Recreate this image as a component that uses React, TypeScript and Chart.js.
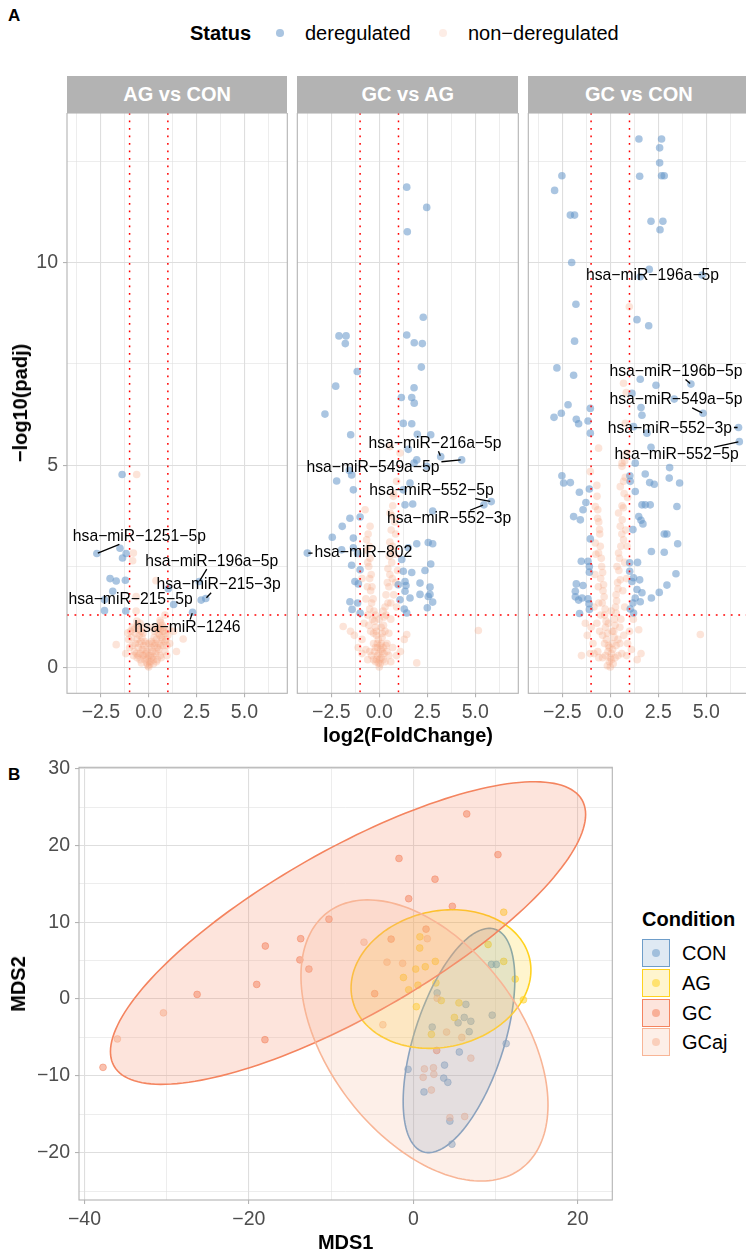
import React, { useEffect, useRef } from 'react';
import { Chart, registerables } from 'chart.js';

Chart.register(...registerables);

const FONT = "'Liberation Sans', Arial, Helvetica, sans-serif";
const MINUS = '\u2212';

// ---------------- Panel A : volcano plots ----------------
const facetTitles = ['AG vs CON', 'GC vs AG', 'GC vs CON'];
const statusLabels = ['deregulated', 'non\u2212deregulated'];
const foldChangeCutoffs = [-1, 1];
const padjCutoff = 1.301; // -log10(0.05)
const volcanoXRange = [-4.27, 7.24];
const volcanoYRange = [-0.63, 13.69];
const volcanoXTicks = [-3.75, -2.5, -1.25, 0, 1.25, 2.5, 3.75, 5, 6.25];
const volcanoXMajor = [-2.5, 0, 2.5, 5];
const volcanoYTicks = [0, 2.5, 5, 7.5, 10, 12.5];
const volcanoYMajor = [0, 5, 10];

const agConDeregulated = [
  [-1.39, 4.77], [-2.71, 2.82], [-1.5, 2.95], [-1.18, 2.82], [-1.37, 2.71], [-2.02, 2.2], [-1.7, 2.14],
  [-1.22, 2.16], [-1.88, 1.89], [-2.31, 1.68], [-2.31, 1.41], [-1.2, 1.4], [1.02, 1.95], [1.3, 1.56],
  [2.64, 2.13], [2.74, 1.67], [2.98, 1.71], [2.29, 1.37],
];
const agConNonDeregulated = [
  [-0.63, 4.77], [-0.8, 2.83], [-0.84, 2.64], [0.38, 2.15], [-0.66, 1.76], [-0.66, 1.4], [0.59, 1.17],
  [-1.09, 0.86], [-1.7, 0.57], [1.8, 0.71], [0.85, 1.3], [1.3, 0.9], [-1.2, 0.35], [1.45, 0.4],
  [-0.9, 0.75], [-0.75, 0.95], [-0.6, 1.05], [-0.5, 0.8], [-0.45, 1.1], [-0.7, 0.6], [-0.55, 0.5],
  [-0.4, 0.65], [-0.35, 0.45], [-0.3, 0.3], [-0.25, 0.55], [-0.2, 0.2], [-0.15, 0.35], [-0.1, 0.12],
  [-0.05, 0.05], [0, 0.02], [0.05, 0.08], [0.1, 0.15], [0.15, 0.25], [0.2, 0.4], [0.25, 0.2],
  [0.3, 0.55], [0.35, 0.35], [0.4, 0.7], [0.45, 0.5], [0.5, 0.85], [0.55, 0.6], [0.6, 0.95],
  [0.65, 0.75], [0.7, 1.05], [0.75, 0.55], [0.8, 0.9], [0.9, 0.7], [1.0, 0.8], [1.1, 0.6],
  [-1.0, 0.5], [-0.8, 0.3], [-0.6, 0.25], [0.6, 0.3], [0.85, 0.4], [-0.45, 0.2], [0.4, 0.15],
  [-0.3, 0.85], [0.3, 0.9], [-0.15, 0.6], [0.15, 0.65], [-0.02, 0.3], [0.05, 0.45], [-0.65, 0.35],
  [0.95, 0.3], [0.5, 1.0], [-0.5, 0.95],
  [-0.95, 0.9], [-0.85, 1.0], [-0.7, 0.85], [-0.6, 0.7], [-0.5, 0.6], [-0.45, 0.35], [-0.4, 0.9],
  [-0.35, 0.75], [-0.3, 0.45], [-0.2, 0.65], [-0.25, 0.3], [-0.1, 0.4], [-0.08, 0.22], [0.02, 0.15],
  [0.08, 0.3], [0.12, 0.5], [0.2, 0.6], [0.22, 0.28], [0.28, 0.75], [0.35, 0.6], [0.42, 0.4],
  [0.48, 0.95], [0.52, 0.45], [0.58, 0.8], [0.62, 0.55], [0.7, 0.7], [0.72, 0.9], [0.78, 1.0],
  [0.85, 0.65], [0.95, 0.55], [1.05, 0.95], [-1.05, 0.7], [-0.75, 0.4], [-0.55, 0.3], [0.65, 0.25],
  [0.45, 0.2], [-0.38, 0.12], [0.25, 0.1], [-0.85, 0.55], [0.88, 0.85], [-0.2, 1.0], [0.2, 1.0],
  [0.0, 0.6], [-0.62, 1.15], [0.62, 1.12],
];
const agConLabels = [
  { gene: 'hsa\u2212miR\u22121251\u22125p', point: [-2.71, 2.82], at: [-0.49, 3.24] },
  { gene: 'hsa\u2212miR\u2212196a\u22125p', point: [2.64, 2.13], at: [3.29, 2.63] },
  { gene: 'hsa\u2212miR\u2212215\u22123p', point: [2.98, 1.71], at: [3.65, 2.05] },
  { gene: 'hsa\u2212miR\u2212215\u22125p', point: [-2.31, 1.68], at: [-0.95, 1.68] },
  { gene: 'hsa\u2212miR\u22121246', point: [2.29, 1.37], at: [2.02, 0.99] },
];

const gcAgDeregulated = [
  [1.43, 11.86], [2.47, 11.36], [1.46, 10.76], [2.29, 8.65], [-2.1, 8.19], [-1.73, 8.19], [-1.77, 8.0],
  [1.43, 8.21], [1.82, 8.02], [2.24, 8.0], [2.19, 7.42], [-1.15, 7.31], [-2.27, 6.95], [1.81, 6.91],
  [1.15, 6.67], [1.69, 6.67], [1.82, 6.53], [-2.83, 6.26], [1.25, 6.03], [1.69, 6.02], [-1.49, 5.75],
  [1.98, 5.76], [2.68, 5.75], [3.2, 5.21], [4.29, 5.13], [1.95, 5.13], [1.81, 5.05], [1.51, 5.39],
  [2.47, 4.97], [-1.56, 4.87], [-1.44, 4.76], [-2.22, 4.61], [-1.35, 4.39], [1.25, 4.39], [1.6, 4.56],
  [1.34, 4.02], [1.74, 4.04], [2.78, 3.87], [5.45, 4.02], [5.83, 4.1], [-1.53, 3.69], [-1.0, 3.72],
  [-1.93, 3.49], [-2.45, 3.22], [-1.35, 3.2], [1.95, 3.06], [2.55, 3.09], [2.78, 3.06], [1.51, 2.96],
  [-1.96, 2.91], [-1.35, 2.96], [-3.75, 2.83], [1.17, 2.67], [-1.13, 2.82], [-1.44, 2.53], [2.68, 2.56],
  [2.38, 2.4], [1.25, 2.38], [1.69, 2.35], [-1.0, 2.42], [1.34, 2.13], [-1.27, 2.13], [-1.09, 2.07],
  [2.12, 2.09], [0.99, 2.05], [1.39, 2.03], [2.64, 1.99], [2.64, 1.81], [2.55, 1.76], [2.12, 1.81],
  [1.34, 1.89], [1.6, 1.72], [-1.53, 1.63], [-1.13, 1.6], [-1.42, 1.44], [2.78, 1.62], [2.5, 1.48],
  [1.3, 1.45], [1.43, 1.35], [1.08, 1.68], [-1.0, 1.35],
];
const gcAgNonDeregulated = [
  [5.16, 0.92], [1.95, 0.12], [0.56, 5.46], [1.08, 5.3], [0.73, 4.23], [0.56, 3.82], [-0.48, 3.49],
  [-0.66, 3.16], [-0.74, 3.9], [-1.88, 1.02], [-1.5, 0.9], [1.43, 0.82], [0.9, 4.6], [0.85, 3.3],
  [0.6, 2.9], [-0.6, 2.6], [-0.9, 2.2], [0.95, 2.4],
  [0.2, 0.5], [0.3, 0.9], [0.35, 1.3], [0.45, 1.6], [0.5, 2.0], [0.55, 2.3], [0.65, 2.6], [0.7, 3.0],
  [0.8, 3.6], [0.75, 1.8], [0.6, 1.2], [0.9, 1.5], [0.85, 2.1], [0.4, 0.6],
  [-0.2, 0.5], [-0.3, 0.85], [-0.35, 1.2], [-0.4, 1.6], [-0.45, 1.9], [-0.5, 2.2], [-0.55, 2.5],
  [-0.65, 2.9], [-0.7, 1.7], [-0.6, 1.3], [-0.8, 1.1], [-0.9, 0.7],
  [0, 0.02], [0.05, 0.1], [-0.05, 0.12], [0.1, 0.25], [-0.1, 0.3], [0.15, 0.4], [-0.15, 0.2],
  [0.25, 0.35], [-0.25, 0.4], [0.05, 0.55], [-0.05, 0.7], [0.15, 0.75], [-0.15, 0.9], [0.1, 1.0],
  [0.3, 0.15], [-0.3, 0.2], [0.5, 0.3], [-0.5, 0.4], [0.7, 0.5], [-0.7, 0.45], [1.1, 0.4],
  [-1.1, 0.5], [1.3, 0.7], [-1.3, 0.8], [0.0, 1.2], [0.2, 1.4], [-0.2, 1.3],
  [-0.1, 0.6], [-0.15, 0.8], [-0.2, 1.0], [-0.25, 1.15], [-0.28, 1.4], [-0.32, 1.7], [-0.38, 2.0],
  [-0.42, 2.3], [-0.48, 2.7], [-0.52, 3.0], [-0.58, 3.3], [-0.3, 0.6], [-0.45, 0.9], [-0.55, 1.05],
  [-0.5, 1.45], [-0.62, 2.0],
  [0.1, 0.6], [0.15, 0.85], [0.22, 1.05], [0.25, 1.25], [0.3, 1.5], [0.35, 1.8], [0.42, 2.1],
  [0.45, 2.45], [0.52, 2.75], [0.55, 3.1], [0.62, 3.4], [0.66, 3.75], [0.7, 4.0], [0.75, 4.3],
  [0.35, 0.55], [0.5, 0.85], [0.6, 1.6], [0.68, 2.2], [0.78, 2.8],
  [0.02, 0.2], [-0.02, 0.35], [0.08, 0.45], [-0.1, 0.5], [0.2, 0.2], [-0.2, 0.15], [0.4, 0.4],
  [-0.4, 0.3], [0.9, 0.3], [-0.9, 0.35], [0.6, 0.15], [-0.6, 0.2],
];
const gcAgLabels = [
  { gene: 'hsa\u2212miR\u2212216a\u22125p', point: [3.2, 5.21], at: [2.9, 5.54] },
  { gene: 'hsa\u2212miR\u2212549a\u22125p', point: [4.29, 5.13], at: [-0.33, 4.93] },
  { gene: 'hsa\u2212miR\u2212552\u22125p', point: [5.83, 4.1], at: [2.72, 4.37] },
  { gene: 'hsa\u2212miR\u2212552\u22123p', point: [5.45, 4.02], at: [3.64, 3.69] },
  { gene: 'hsa\u2212miR\u2212802', point: [-3.75, 2.83], at: [-0.83, 2.83] },
];

const gcConDeregulated = [
  [1.49, 13.05], [2.67, 13.05], [2.57, 12.83], [2.57, 12.46], [-2.52, 12.14], [1.53, 12.13], [2.67, 12.14],
  [2.81, 12.14], [-2.9, 11.78], [-2.08, 11.17], [-1.86, 11.17], [2.12, 11.02], [2.74, 11.02], [2.59, 10.81],
  [-2.01, 10.0], [2.03, 9.83], [1.56, 9.65], [4.78, 9.69], [-1.79, 8.97], [1.39, 8.59], [2.0, 8.44],
  [-1.86, 8.06], [-2.78, 7.4], [-1.91, 7.22], [1.56, 7.12], [2.38, 6.97], [4.2, 7.0], [1.13, 6.77],
  [3.33, 6.63], [4.83, 6.28], [-2.2, 6.49], [1.6, 6.42], [1.65, 6.23], [-2.55, 6.28], [-2.93, 6.18],
  [-1.04, 6.4], [-1.77, 6.13], [-1.65, 6.02], [-1.16, 6.09], [6.68, 5.93], [6.72, 5.58], [-1.04, 5.79],
  [1.21, 5.95], [1.91, 5.79], [2.12, 5.44], [1.3, 5.05], [3.09, 4.94], [-2.52, 4.74], [-2.43, 4.56],
  [-2.08, 4.57], [1.82, 4.78], [3.07, 4.68], [3.61, 4.56], [2.05, 4.57], [2.29, 4.53], [1.02, 4.74],
  [1.04, 4.6], [-1.09, 4.41], [-1.61, 4.33], [1.3, 4.35], [-1.27, 4.08], [1.65, 4.02], [1.82, 4.02],
  [2.08, 4.02], [3.47, 3.98], [-1.42, 3.9], [-1.91, 3.73], [-1.56, 3.65], [1.48, 3.73], [1.6, 3.64],
  [1.7, 3.55], [1.18, 3.41], [2.81, 3.3], [2.95, 3.3], [-1.04, 3.18], [3.51, 3.06], [2.14, 2.87],
  [2.81, 2.85], [-1.51, 2.63], [-1.16, 2.63], [-1.09, 2.36], [-1.09, 2.5], [1.01, 2.59], [1.01, 2.38],
  [1.42, 2.6], [3.42, 2.32], [1.21, 2.22], [1.53, 2.17], [1.13, 2.13], [-1.77, 2.07], [-1.42, 2.03],
  [-1.82, 1.89], [2.95, 2.04], [1.39, 1.93], [1.65, 1.85], [1.3, 1.72], [1.56, 1.63], [2.55, 1.86],
  [2.14, 1.72], [-1.82, 1.75], [-1.47, 1.72], [-1.65, 1.67], [-1.16, 1.7], [-1.11, 1.58], [-1.09, 1.44],
  [-1.6, 1.34], [1.18, 1.6], [1.04, 1.45], [1.21, 1.35],
];
const gcConNonDeregulated = [
  [0.99, 8.91], [0.69, 7.02], [0.83, 6.79], [0.78, 6.03], [-0.61, 5.42], [0.61, 5.05], [4.69, 0.82],
  [-1.04, 4.84], [-0.69, 4.23], [-0.78, 3.98], [-0.66, 3.69], [-0.56, 3.41], [-0.78, 3.08], [-0.61, 2.83],
  [-0.45, 2.5], [-0.5, 2.2], [-0.38, 1.9], [-0.42, 1.6], [-0.3, 1.3], [-0.25, 1.0], [-0.2, 0.7],
  [-0.12, 0.4], [-0.05, 0.15], [0, 0.02], [0.06, 0.2], [0.12, 0.45], [0.2, 0.75], [0.25, 1.05],
  [0.3, 1.35], [0.33, 1.65], [0.4, 1.95], [0.52, 2.17], [0.35, 2.5], [0.43, 2.83], [0.69, 3.16],
  [0.52, 3.49], [0.43, 3.82], [0.61, 4.0], [0.52, 4.47], [0.69, 4.6], [0.61, 4.97], [0.85, 5.3],
  [0.9, 4.2], [0.8, 3.4], [0.75, 2.6], [0.65, 1.9], [0.55, 1.2], [0.7, 0.8], [0.9, 0.6], [1.1, 0.45],
  [1.48, 0.94], [1.6, 0.35], [-0.9, 0.6], [-1.2, 0.8], [-1.05, 0.35], [-0.7, 1.1], [-0.6, 1.6],
  [-0.8, 2.3], [-0.65, 0.4], [-0.4, 0.25], [0.4, 0.3], [0.15, 0.1], [-0.15, 0.05], [-0.3, 0.6],
  [0.3, 0.55], [0.1, 0.9], [-0.1, 1.1], [0.05, 1.4], [-0.55, 0.9], [0.5, 0.6], [1.2, 1.2],
  [-1.3, 1.1], [-1.5, 0.3], [1.4, 0.2],
  [-0.1, 0.55], [-0.15, 0.85], [-0.22, 1.15], [-0.27, 1.45], [-0.32, 1.75], [-0.35, 2.05], [-0.4, 2.35],
  [-0.47, 2.7], [-0.52, 3.0], [-0.55, 3.3], [-0.6, 3.6], [-0.65, 3.9], [-0.7, 4.5], [-0.4, 0.8],
  [-0.5, 1.3], [-0.62, 2.0], [-0.75, 2.8], [-0.85, 1.5],
  [0.1, 0.6], [0.18, 0.9], [0.22, 1.2], [0.27, 1.5], [0.3, 1.8], [0.38, 2.1], [0.45, 2.4], [0.48, 2.7],
  [0.55, 3.0], [0.6, 3.3], [0.62, 3.65], [0.68, 3.95], [0.72, 4.3], [0.78, 4.7], [0.75, 5.1],
  [0.4, 0.7], [0.5, 1.0], [0.75, 1.5], [0.85, 2.2], [0.88, 3.0],
  [0.0, 0.25], [0.05, 0.35], [-0.05, 0.5], [0.25, 0.25], [-0.25, 0.3], [0.6, 0.35], [-0.6, 0.25],
  [0.85, 0.3], [-0.85, 0.35], [1.0, 0.9], [-1.0, 1.0],
];
const gcConLabels = [
  { gene: 'hsa\u2212miR\u2212196a\u22125p', point: [4.78, 9.69], at: [2.2, 9.67] },
  { gene: 'hsa\u2212miR\u2212196b\u22125p', point: [4.2, 7.0], at: [3.42, 7.31] },
  { gene: 'hsa\u2212miR\u2212549a\u22125p', point: [4.83, 6.28], at: [3.42, 6.61] },
  { gene: 'hsa\u2212miR\u2212552\u22123p', point: [6.68, 5.93], at: [3.1, 5.91] },
  { gene: 'hsa\u2212miR\u2212552\u22125p', point: [6.72, 5.58], at: [3.45, 5.25] },
];

// ---------------- Panel B : MDS ----------------
const conditions = ['CON', 'AG', 'GC', 'GCaj'];
const mdsXRange = [-40.67, 24.21];
const mdsYRange = [-26.17, 30.17];
const mdsXTicks = [-40, -30, -20, -10, 0, 10, 20];
const mdsXMajor = [-40, -20, 0, 20];
const mdsYTicks = [-25, -20, -15, -10, -5, 0, 5, 10, 15, 20, 25, 30];
const mdsYMajor = [-20, -10, 0, 10, 20, 30];

const conSamples = [
  [9.5, 4.5], [10.1, 4.5], [2.9, 0.8], [6.4, -0.7], [6.2, -2.4], [5.45, -3.1], [7.0, -2.9], [9.6, -2.1],
  [2.3, -3.65], [6.8, -4.25], [11.3, -5.8], [5.6, -6.9], [-0.64, -9.15], [3.8, -8.6], [3.7, -10.3],
  [4.2, -10.85], [1.3, -12.1], [4.45, -15.9], [4.7, -18.9],
];
const agSamples = [
  [11.0, 11.3], [0.8, 8.1], [0.78, 6.64], [9.1, 7.1], [0.29, 3.9], [1.46, 4.2], [2.68, 4.9], [11.0, 4.9],
  [-1.2, 2.8], [0.57, 1.8], [-0.56, 1.2], [12.4, 2.6], [2.75, 2.1], [13.4, -0.1], [3.4, -0.2],
  [0.37, -1.0], [5.55, -0.5], [5.0, -2.4], [2.2, -4.6],
];
const gcSamples = [
  [6.5, 24.1], [10.3, 18.8], [-1.74, 18.3], [2.64, 15.6], [-0.56, 13.06], [4.75, 12.07], [-10.26, 10.4],
  [-13.7, 7.85], [-13.8, 5.1], [-12.7, 3.9], [-18.0, 6.9], [-19.05, 1.9], [-26.3, 0.6], [-18.05, -5.3],
  [-37.75, -8.9], [-2.7, 7.8], [1.55, 9.1], [-4.7, 0.7], [2.85, -6.7],
];
const gcajSamples = [
  [-6.0, 7.4], [1.7, 7.85], [-3.2, 4.8], [-1.3, 4.65], [2.9, 0.1], [-3.7, -3.35], [4.05, -4.3],
  [5.9, -5.0], [7.0, -7.7], [1.35, -9.1], [2.45, -8.95], [2.5, -9.8], [1.2, -10.2], [2.2, -11.85],
  [4.45, -15.45], [6.25, -15.3], [-30.4, -1.8], [-36.0, -5.2],
];
// 95% ellipses: centre and two conjugate semi-axis vectors (data units)
const ellipseCentres = [[5.56, -5.4], [3.37, 2.6], [-7.94, 8.59], [1.36, -5.4]];
const ellipseAxisU = [[4.37, 14.49], [10.78, 2.67], [28.47, 17.32], [11.78, -16.68]];
const ellipseAxisV = [[5.2, -1.8], [-1.86, 8.62], [-4.99, 9.39], [9.33, 7.54]];
const conditionRgb = [[110, 157, 201], [255, 210, 31], [244, 132, 95], [248, 181, 150]];

// ---------------- styling ----------------
const TICK_COLOR = '#4D4D4D';
const GRID_COLOR = '#DEDEDE';
const FRAME_COLOR = '#B3B3B3';
const DEREG_COLOR = 'rgba(100,150,200,0.55)';
const NON_COLOR = 'rgba(244,165,130,0.3)';
const NON_LEGEND_COLOR = 'rgba(244,165,130,0.2)';
const rgba = (c: number[], a: number) => `rgba(${c[0]},${c[1]},${c[2]},${a})`;

const near = (list: number[], v: number) => list.some((m) => Math.abs(m - v) < 1e-6);
const minusFmt = (v: number, digits: number) =>
  (v < 0 ? MINUS : '') + Math.abs(v).toFixed(digits);

function axisOptions(
  range: number[], ticks: number[], major: number[], fmt: (v: number) => string,
  size: number, isX: boolean, showLabels: boolean, pad: number,
) {
  return {
    type: 'linear',
    min: range[0],
    max: range[1],
    afterBuildTicks: (s: any) => { s.ticks = ticks.map((v) => ({ value: v })); },
    afterFit: (s: any) => {
      if (isX) s.height = size; else s.width = size;
      s.paddingTop = 0; s.paddingBottom = 0; s.paddingLeft = 0; s.paddingRight = 0;
    },
    ticks: {
      display: showLabels,
      autoSkip: false,
      maxRotation: 0,
      minRotation: 0,
      padding: pad,
      color: TICK_COLOR,
      font: { family: FONT, size: 19.5 },
      callback: (v: any) => (near(major, Number(v)) ? fmt(Number(v)) : ''),
    },
    grid: {
      color: GRID_COLOR,
      lineWidth: (c: any) => (c.tick && near(major, c.tick.value) ? 1.1 : 0.55),
      drawTicks: showLabels,
      tickLength: 4,
      tickColor: (c: any) => (c.tick && near(major, c.tick.value) ? FRAME_COLOR : 'rgba(0,0,0,0)'),
      tickWidth: 1.1,
    },
    border: { display: false },
  };
}

const framePlugin = {
  id: 'frame',
  afterDraw(chart: any) {
    const { ctx, chartArea: a } = chart;
    ctx.save();
    ctx.strokeStyle = FRAME_COLOR;
    ctx.lineWidth = 1.1;
    ctx.strokeRect(a.left, a.top, a.right - a.left, a.bottom - a.top);
    ctx.restore();
  },
};

function volcanoExtras(labels: { gene: string; point: number[]; at: number[] }[]) {
  return {
    id: 'volcanoExtras',
    afterDatasetsDraw(chart: any) {
      const { ctx, chartArea: a, scales } = chart;
      const xs = scales.x;
      const ys = scales.y;
      ctx.save();
      ctx.beginPath();
      ctx.rect(a.left, a.top, a.right - a.left, a.bottom - a.top);
      ctx.clip();
      ctx.strokeStyle = '#FF0000';
      ctx.lineWidth = 1.5;
      ctx.setLineDash([1.8, 5.7]);
      for (const c of foldChangeCutoffs) {
        const px = xs.getPixelForValue(c);
        ctx.beginPath();
        ctx.moveTo(px, a.top);
        ctx.lineTo(px, a.bottom);
        ctx.stroke();
      }
      const hy = ys.getPixelForValue(padjCutoff);
      ctx.beginPath();
      ctx.moveTo(a.left, hy);
      ctx.lineTo(a.right, hy);
      ctx.stroke();
      ctx.setLineDash([]);

      ctx.font = `15.7px ${FONT}`;
      ctx.textAlign = 'center';
      ctx.textBaseline = 'middle';
      for (const lab of labels) {
        const cx = xs.getPixelForValue(lab.at[0]);
        const cy = ys.getPixelForValue(lab.at[1]);
        const px = xs.getPixelForValue(lab.point[0]);
        const py = ys.getPixelForValue(lab.point[1]);
        const hw = ctx.measureText(lab.gene).width / 2 + 2;
        const hh = 8;
        const dx = px - cx;
        const dy = py - cy;
        if (Math.abs(dx) > hw || Math.abs(dy) > hh) {
          const t = Math.min(hw / Math.max(Math.abs(dx), 1e-9), hh / Math.max(Math.abs(dy), 1e-9));
          const sx = cx + dx * t;
          const sy = cy + dy * t;
          const len = Math.hypot(px - sx, py - sy);
          if (len > 2) {
            const k = (len - 1) / len;
            ctx.strokeStyle = '#000';
            ctx.lineWidth = 1.3;
            ctx.beginPath();
            ctx.moveTo(sx, sy);
            ctx.lineTo(sx + (px - sx) * k, sy + (py - sy) * k);
            ctx.stroke();
          }
        }
        ctx.fillStyle = '#000';
        ctx.fillText(lab.gene, cx, cy);
      }
      ctx.restore();
    },
  };
}

function volcanoConfig(
  dereg: number[][], nonDereg: number[][], labels: any[], axisW: number, showY: boolean,
): any {
  return {
    type: 'scatter',
    data: {
      datasets: [
        {
          data: dereg.map(([x, y]) => ({ x, y })),
          backgroundColor: DEREG_COLOR, borderWidth: 0, pointRadius: 3.8, order: 0,
        },
        {
          data: nonDereg.map(([x, y]) => ({ x, y })),
          backgroundColor: NON_COLOR, borderWidth: 0, pointRadius: 3.8, order: 1,
        },
      ],
    },
    options: {
      animation: false,
      responsive: false,
      events: [],
      layout: { autoPadding: false, padding: { left: 0, right: 2.7, top: 0, bottom: 0 } },
      plugins: { legend: { display: false }, tooltip: { enabled: false } },
      scales: {
        x: axisOptions(volcanoXRange, volcanoXTicks, volcanoXMajor, (v) => minusFmt(v, 1), 66.7, true, true, 4),
        y: axisOptions(volcanoYRange, volcanoYTicks, volcanoYMajor, (v) => minusFmt(v, 0), axisW, false, showY, 5),
      },
    },
    plugins: [volcanoExtras(labels), framePlugin],
  };
}

const ellipsePlugin = {
  id: 'ellipses',
  afterDatasetsDraw(chart: any) {
    const { ctx, chartArea: a, scales } = chart;
    const xs = scales.x;
    const ys = scales.y;
    ctx.save();
    ctx.beginPath();
    ctx.rect(a.left, a.top, a.right - a.left, a.bottom - a.top);
    ctx.clip();
    conditions.forEach((_, i) => {
      const [cx, cy] = ellipseCentres[i];
      const [ux, uy] = ellipseAxisU[i];
      const [vx, vy] = ellipseAxisV[i];
      ctx.beginPath();
      for (let k = 0; k <= 180; k++) {
        const t = (k / 180) * Math.PI * 2;
        const X = xs.getPixelForValue(cx + ux * Math.cos(t) + vx * Math.sin(t));
        const Y = ys.getPixelForValue(cy + uy * Math.cos(t) + vy * Math.sin(t));
        if (k === 0) ctx.moveTo(X, Y); else ctx.lineTo(X, Y);
      }
      ctx.closePath();
      ctx.fillStyle = rgba(conditionRgb[i], 0.22);
      ctx.fill();
      ctx.strokeStyle = rgba(conditionRgb[i], 1);
      ctx.lineWidth = 1.6;
      ctx.stroke();
    });
    ctx.restore();
  },
};

function mdsConfig(): any {
  const groups = [conSamples, agSamples, gcSamples, gcajSamples];
  return {
    type: 'scatter',
    data: {
      datasets: groups.map((g, i) => ({
        label: conditions[i],
        data: g.map(([x, y]) => ({ x, y })),
        backgroundColor: rgba(conditionRgb[i], 0.5),
        borderColor: rgba(conditionRgb[i], 0.5),
        borderWidth: 1,
        pointRadius: 3.4,
        order: 3 - i,
      })),
    },
    options: {
      animation: false,
      responsive: false,
      events: [],
      layout: { autoPadding: false, padding: { left: 0, right: 7.7, top: 7.3, bottom: 0 } },
      plugins: { legend: { display: false }, tooltip: { enabled: false } },
      scales: {
        x: axisOptions(mdsXRange, mdsXTicks, mdsXMajor, (v) => minusFmt(v, 0), 54, true, true, 4),
        y: axisOptions(mdsYRange, mdsYTicks, mdsYMajor, (v) => minusFmt(v, 0), 79, false, true, 5),
      },
    },
    plugins: [ellipsePlugin, framePlugin],
  };
}

// ---------------- layout ----------------
const facetCanvas = [
  { left: 0, width: 290, axisW: 67, showY: true },
  { left: 290, width: 231, axisW: 7.3, showY: false },
  { left: 521, width: 231, axisW: 7.3, showY: false },
];
const facetPanelLeft = [67, 297.3, 528.3];
const facetPanelWidth = [220.3, 221, 221];

const abs = (extra: any): React.CSSProperties => ({ position: 'absolute', whiteSpace: 'nowrap', lineHeight: 1, ...extra });

export default function App() {
  const c1 = useRef<HTMLCanvasElement>(null);
  const c2 = useRef<HTMLCanvasElement>(null);
  const c3 = useRef<HTMLCanvasElement>(null);
  const c4 = useRef<HTMLCanvasElement>(null);

  useEffect(() => {
    const charts = [
      new Chart(c1.current as HTMLCanvasElement, volcanoConfig(agConDeregulated, agConNonDeregulated, agConLabels, facetCanvas[0].axisW, true)),
      new Chart(c2.current as HTMLCanvasElement, volcanoConfig(gcAgDeregulated, gcAgNonDeregulated, gcAgLabels, facetCanvas[1].axisW, false)),
      new Chart(c3.current as HTMLCanvasElement, volcanoConfig(gcConDeregulated, gcConNonDeregulated, gcConLabels, facetCanvas[2].axisW, false)),
      new Chart(c4.current as HTMLCanvasElement, mdsConfig()),
    ];
    return () => charts.forEach((c) => c.destroy());
  }, []);

  const refs = [c1, c2, c3];

  return (
    <div style={{ position: 'absolute', left: 0, top: 0, width: 746, height: 1254, overflow: 'hidden', background: '#fff', fontFamily: FONT, color: '#000' }}>
      <div style={abs({ left: 8, top: 15, transform: 'translateY(-50%)', fontSize: 17, fontWeight: 'bold' })}>A</div>
      <div style={abs({ left: 8, top: 774, transform: 'translateY(-50%)', fontSize: 17, fontWeight: 'bold' })}>B</div>

      {/* legend A */}
      <div style={abs({ left: 190, top: 33, transform: 'translateY(-50%)', fontSize: 20, fontWeight: 'bold' })}>Status</div>
      <div style={abs({ left: 276.2, top: 29.2, width: 7.6, height: 7.6, borderRadius: '50%', background: DEREG_COLOR })} />
      <div style={abs({ left: 305, top: 33, transform: 'translateY(-50%)', fontSize: 20 })}>{statusLabels[0]}</div>
      <div style={abs({ left: 439.2, top: 29.2, width: 7.6, height: 7.6, borderRadius: '50%', background: NON_LEGEND_COLOR })} />
      <div style={abs({ left: 468, top: 33, transform: 'translateY(-50%)', fontSize: 20 })}>{statusLabels[1]}</div>

      {/* strips */}
      {facetTitles.map((t, i) => (
        <div key={t} style={abs({ left: facetPanelLeft[i], top: 76, width: facetPanelWidth[i], height: 36.7, background: '#B3B3B3', color: '#fff', fontWeight: 'bold', fontSize: 20, lineHeight: '36.7px', textAlign: 'center' })}>{t}</div>
      ))}

      {facetCanvas.map((f, i) => (
        <canvas key={i} ref={refs[i]} width={f.width} height={647} style={{ position: 'absolute', left: f.left, top: 113, width: f.width, height: 647 }} />
      ))}

      <div style={abs({ left: 20, top: 403, transform: 'translate(-50%,-50%) rotate(-90deg)', fontSize: 20, fontWeight: 'bold' })}>{MINUS}log10(padj)</div>
      <div style={abs({ left: 408, top: 735, transform: 'translate(-50%,-50%)', fontSize: 20, fontWeight: 'bold' })}>log2(FoldChange)</div>

      {/* Panel B */}
      <canvas ref={c4} width={620} height={494} style={{ position: 'absolute', left: 0, top: 760, width: 620, height: 494 }} />
      <div style={abs({ left: 18, top: 983.5, transform: 'translate(-50%,-50%) rotate(-90deg)', fontSize: 20, fontWeight: 'bold' })}>MDS2</div>
      <div style={abs({ left: 345.7, top: 1241.5, transform: 'translate(-50%,-50%)', fontSize: 20, fontWeight: 'bold' })}>MDS1</div>

      <div style={abs({ left: 642, top: 919, transform: 'translateY(-50%)', fontSize: 20, fontWeight: 'bold' })}>Condition</div>
      {conditions.map((c, i) => {
        const top = 939 + i * 29.8;
        return (
          <React.Fragment key={c}>
            <div style={abs({ left: 642, top, width: 28, height: 28, boxSizing: 'border-box', border: `1.6px solid ${rgba(conditionRgb[i], 1)}`, background: rgba(conditionRgb[i], 0.22) })} />
            <div style={abs({ left: 652, top: top + 10, width: 8, height: 8, borderRadius: '50%', background: rgba(conditionRgb[i], 0.55) })} />
            <div style={abs({ left: 682, top: top + 14, transform: 'translateY(-50%)', fontSize: 20 })}>{c}</div>
          </React.Fragment>
        );
      })}
    </div>
  );
}
